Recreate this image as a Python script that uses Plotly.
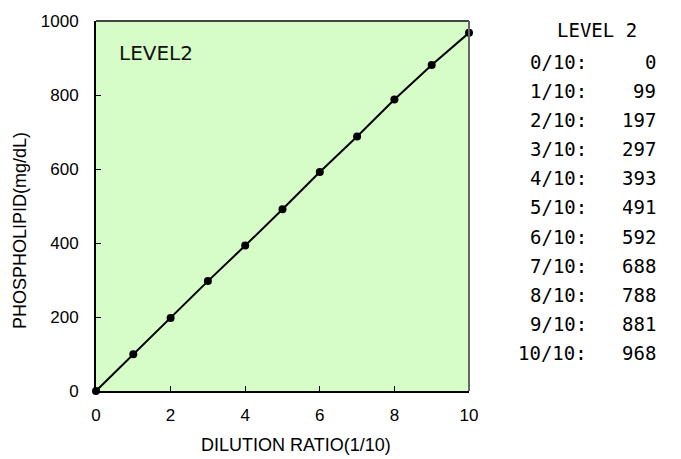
import plotly.graph_objects as go

dilution = [0, 1, 2, 3, 4, 5, 6, 7, 8, 9, 10]
phospholipid = [0, 99, 197, 297, 393, 491, 592, 688, 788, 881, 968]
ratio_labels = ["0/10:", "1/10:", "2/10:", "3/10:", "4/10:", "5/10:", "6/10:", "7/10:", "8/10:", "9/10:", "10/10:"]
table_title = "LEVEL 2"
inner_label = "LEVEL2"
x_title = "DILUTION RATIO(1/10)"
y_title = "PHOSPHOLIPID(mg/dL)"

FONT = "Liberation Sans"
MONO = "DejaVu Sans Mono"
W, H = 681, 459
L, R, T, B = 96, 212, 14, 68
PW, PH = W - L - R, H - T - B


def px_x(p):
    return (p - L) / PW


def px_y(p):
    return (H - B - p) / PH


fig = go.Figure()
fig.add_trace(go.Scatter(
    x=dilution, y=phospholipid, mode="lines+markers",
    line=dict(color="black", width=2),
    marker=dict(color="black", size=8),
    cliponaxis=False, showlegend=False,
))

anns = []
anns.append(dict(x=px_x(117), y=px_y(47), xref="paper", yref="paper", text=inner_label,
                 showarrow=False, xanchor="left", yanchor="middle",
                 font=dict(family="DejaVu Sans", size=20, color="#111111")))
anns.append(dict(x=px_x(296), y=px_y(446), xref="paper", yref="paper",
                 text=x_title, showarrow=False, xanchor="center", yanchor="middle",
                 font=dict(family=FONT, size=18, color="black")))
anns.append(dict(x=px_x(20), y=px_y(228), xref="paper", yref="paper", text=y_title,
                 showarrow=False, textangle=-90, xanchor="center", yanchor="middle",
                 font=dict(family=FONT, size=18, color="black")))
anns.append(dict(x=px_x(597), y=px_y(23), xref="paper", yref="paper",
                 text=table_title, showarrow=False, xanchor="center", yanchor="middle",
                 font=dict(family=MONO, size=19, color="black")))
row_y0, row_dy = 56, 29.6
for i, (lab, val) in enumerate(zip(ratio_labels, phospholipid)):
    yy = row_y0 + i * row_dy
    anns.append(dict(x=px_x(589), y=px_y(yy), xref="paper", yref="paper",
                     text=lab, showarrow=False, xanchor="right", yanchor="middle",
                     font=dict(family=MONO, size=19, color="black")))
    anns.append(dict(x=px_x(658), y=px_y(yy), xref="paper", yref="paper",
                     text=str(val), showarrow=False, xanchor="right", yanchor="middle",
                     font=dict(family=MONO, size=19, color="black")))

fig.add_shape(type="line", xref="x domain", yref="y domain", x0=0, x1=1, y0=1, y1=1,
              line=dict(color="#444444", width=2))
fig.add_shape(type="line", xref="x domain", yref="y domain", x0=1, x1=1, y0=0, y1=1,
              line=dict(color="#666666", width=2))

fig.update_layout(
    width=W, height=H,
    margin=dict(l=L, r=R, t=T, b=B, pad=0),
    paper_bgcolor="white",
    plot_bgcolor="#d6fcc8",
    font=dict(family=FONT, size=14, color="black"),
    annotations=anns,
    xaxis=dict(range=[0, 10], tickvals=[0, 2, 4, 6, 8, 10], ticks="inside", ticklen=5,
               tickcolor="black", tickwidth=1, showgrid=False, zeroline=False,
               showline=True, linecolor="black", linewidth=2, ticklabelstandoff=8,
               tickfont=dict(family="Liberation Sans", size=17)),
    yaxis=dict(range=[0, 1000], tickvals=[0, 200, 400, 600, 800, 1000], ticks="inside", ticklen=5,
               tickcolor="black", tickwidth=1, showgrid=False, zeroline=False,
               showline=True, linecolor="black", linewidth=2, ticklabelstandoff=12,
               tickfont=dict(family="Liberation Sans", size=17)),
)

fig.write_html("out.html", config={"displayModeBar": False},
               post_script="document.body.style.margin='0';")
